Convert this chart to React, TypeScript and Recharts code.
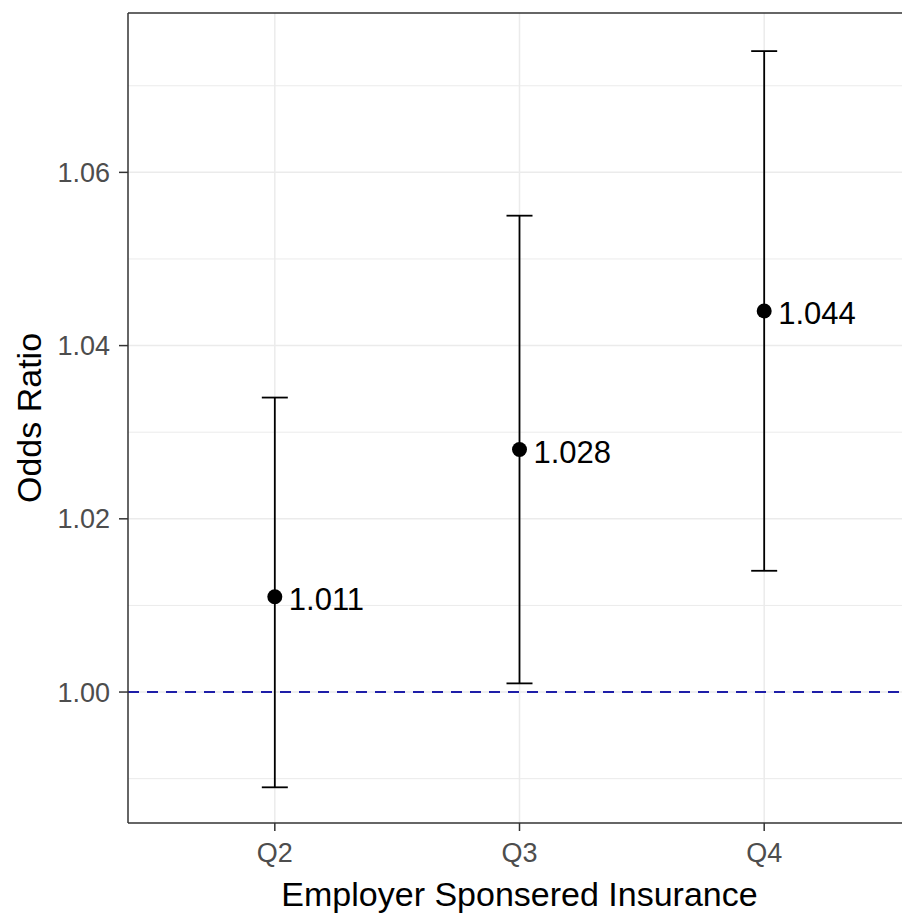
import {
  ComposedChart,
  Scatter,
  ErrorBar,
  XAxis,
  YAxis,
  CartesianGrid,
  ReferenceLine,
} from "recharts";

// values
const categories = ["Q2", "Q3", "Q4"];
const oddsRatio = [1.011, 1.028, 1.044];
const ciLower = [0.989, 1.001, 1.014];
const ciUpper = [1.034, 1.055, 1.074];

const yTicks = [1.0, 1.02, 1.04, 1.06];
const yMinorTicks = [0.99, 1.01, 1.03, 1.05, 1.07];
const yDomain = [0.98488, 1.0784];
const xDomain = [0.4, 3.6];
const refValue = 1.0;

const FONT = "'Liberation Sans', Arial, sans-serif";
const GRID = "#ebebeb";
const BORDER = "#333";

const data = categories.map((name, i) => ({
  name,
  x: i + 1,
  or: oddsRatio[i],
  err: [oddsRatio[i] - ciLower[i], ciUpper[i] - oddsRatio[i]],
}));

// point + value label to its right
const PointShape = (props: any) => {
  const { cx, cy, payload } = props;
  return (
    <g>
      <circle cx={cx} cy={cy} r={7.5} fill="#000" />
      <text
        x={cx + 14}
        y={cy + 3}
        fill="#000"
        fontSize={31}
        fontFamily={FONT}
        dominantBaseline="central">
        {payload.or.toFixed(3)}
      </text>
    </g>
  );
};

const XTitle = (props: any) => {
  const vb = props.viewBox || { x: 120, width: 783 };
  return (
    <text
      x={vb.x + vb.width / 2}
      y={898}
      textAnchor="middle"
      fill="#000"
      fontSize={34}
      fontFamily={FONT}>
      Employer Sponsered Insurance
    </text>
  );
};

const YTitle = (props: any) => {
  const vb = props.viewBox || { y: 5, height: 810 };
  const cy = vb.y + vb.height / 2;
  return (
    <text
      x={21}
      y={cy}
      transform={`rotate(-90, 21, ${cy})`}
      textAnchor="middle"
      dominantBaseline="central"
      fill="#000"
      fontSize={34}
      fontFamily={FONT}>
      Odds Ratio
    </text>
  );
};

export default function App() {
  return (
    <div style={{ width: 912, height: 920, fontFamily: FONT }}>
      {/* the reference is cropped on the right and bottom; let the viewport clip */}
      <style>{"html { overflow: hidden; } body { margin: 8px 0 0 8px; }"}</style>
      <ComposedChart
        width={912}
        height={920}
        data={data}
        margin={{ top: 5, right: 9, bottom: 0, left: 0 }}>
        <CartesianGrid
          horizontal={false}
          verticalValues={[1, 2, 3]}
          stroke={GRID}
          strokeWidth={1.5}
        />
        {yMinorTicks.map((v) => (
          <ReferenceLine
            key={`minor-${v}`}
            y={v}
            stroke={GRID}
            strokeWidth={1}
            zIndex={-10}
          />
        ))}
        {yTicks.map((v) => (
          <ReferenceLine
            key={`major-${v}`}
            y={v}
            stroke={GRID}
            strokeWidth={1.5}
            zIndex={-10}
          />
        ))}
        <XAxis
          type="number"
          dataKey="x"
          domain={xDomain}
          allowDataOverflow
          ticks={[1, 2, 3]}
          interval={0}
          tickFormatter={(v: number) => categories[v - 1]}
          axisLine={false}
          tickSize={8}
          tickMargin={12}
          tickLine={{ stroke: BORDER, strokeWidth: 1.5 }}
          tick={{ fill: "#4d4d4d", fontSize: 27, fontFamily: FONT }}
          height={105}
          label={<XTitle />}
        />
        <YAxis
          type="number"
          dataKey="or"
          domain={yDomain}
          allowDataOverflow
          ticks={yTicks}
          interval={0}
          tickFormatter={(v: number) => v.toFixed(2)}
          axisLine={false}
          tickSize={9}
          tickMargin={9}
          tickLine={{ stroke: BORDER, strokeWidth: 1.5 }}
          tick={{ fill: "#4d4d4d", fontSize: 27, fontFamily: FONT }}
          width={120}
          label={<YTitle />}
        />
        <ReferenceLine
          y={refValue}
          stroke="#1e1ea8"
          strokeWidth={2}
          strokeDasharray="11 8"
        />
        <Scatter
          dataKey="or"
          shape={<PointShape />}
          isAnimationActive={false}>
          <ErrorBar
            dataKey="err"
            direction="y"
            width={13}
            stroke="#000"
            strokeWidth={1.8}
            isAnimationActive={false}
          />
        </Scatter>
        {/* panel border */}
        <ReferenceLine x={xDomain[0]} stroke={BORDER} strokeWidth={1.5} ifOverflow="visible" />
        <ReferenceLine x={xDomain[1]} stroke={BORDER} strokeWidth={1.5} ifOverflow="visible" />
        <ReferenceLine y={yDomain[0]} stroke={BORDER} strokeWidth={1.5} ifOverflow="visible" />
        <ReferenceLine y={yDomain[1]} stroke={BORDER} strokeWidth={1.5} ifOverflow="visible" />
      </ComposedChart>
    </div>
  );
}
